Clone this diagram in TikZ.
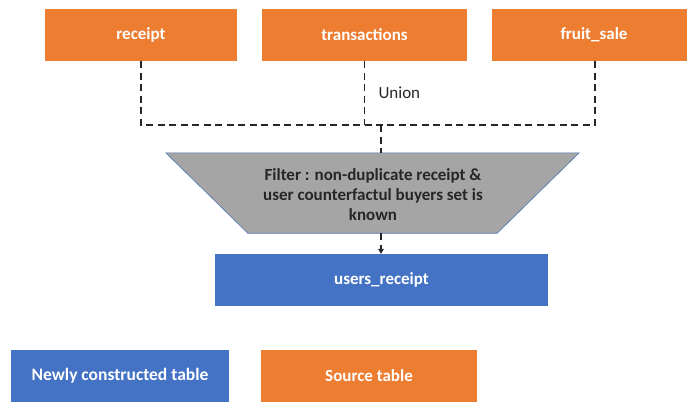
\documentclass[tikz,border=0pt]{standalone}
\usepackage{fontspec}
\setmainfont{Carlito}
\usepackage{tikz}
\usetikzlibrary{calc,arrows.meta}
\usepackage{xcolor}
\definecolor{srcorange}{HTML}{ED7D31}
\definecolor{newblue}{HTML}{4472C4}
\definecolor{filtergray}{HTML}{A5A5A5}
\definecolor{linegray}{HTML}{262626}
\newcommand{\tblh}{52}
\newcommand{\tablebox}[6]{\node[tbl,fill=#2,minimum width=#5pt] (#1) at (#3,#4) {#6};}

\tikzset{
  tbl/.style={minimum height=\tblh pt,inner sep=0pt,text=white,font=\bfseries\fontsize{17}{20}\selectfont},
  unionline/.style={draw=linegray,line width=1.7pt,dash pattern=on 7pt off 4.5pt}
}

\begin{document}
\begin{tikzpicture}[x=1pt,y=-1pt]

    \useasboundingbox (0,0) rectangle (687,401);

    % source tables
    \tablebox{receipt}{srcorange}{141}{35}{192}{receipt}
    \tablebox{trans}{srcorange}{364.5}{35}{205}{transactions}
    \tablebox{fruit}{srcorange}{594}{35}{204}{fruit\_sale}

    % union of the three sources
    \coordinate (join) at (381,125);
    \draw[unionline] (receipt.south) |- (join);
    \draw[unionline] (fruit.south -| 595,0) |- (join);
    \draw[unionline] (trans.south) -- (trans.south |- join);
    \node[anchor=west,text=linegray,font=\fontsize{17}{20}\selectfont] (union) at (375,93) {Union};

    % filter step
    \node[minimum width=249pt,minimum height=80pt,inner sep=0pt] (filter) at (372.5,193) {};
    \filldraw[fill=filtergray,draw=newblue!80!gray,line width=0.6pt]
      ($(filter.north west)+(-82,0)$) -- ($(filter.north east)+(82,0)$)
      -- (filter.south east) -- (filter.south west) -- cycle;
    \node[align=center,inner sep=0pt,text=linegray,font=\bfseries\fontsize{17}{20}\selectfont] (filtertext) at (373,195)
      {Filter : non-duplicate receipt \&\\user counterfactul buyers set is\\known};
    \draw[unionline] (join) -- (join |- filter.north);

    % result
    \tablebox{users}{newblue}{381.5}{280}{333}{users\_receipt}
    \draw[unionline,-{Triangle[length=5pt,width=6pt,line width=0pt]}] (filter.south -| join) -- (users.north -| join);

    % legend
    \tablebox{newleg}{newblue}{120}{376}{218}{\fontsize{17.5}{20}\selectfont Newly constructed table}
    \tablebox{srcleg}{srcorange}{369}{376}{216}{Source table}

\end{tikzpicture}
\end{document}
